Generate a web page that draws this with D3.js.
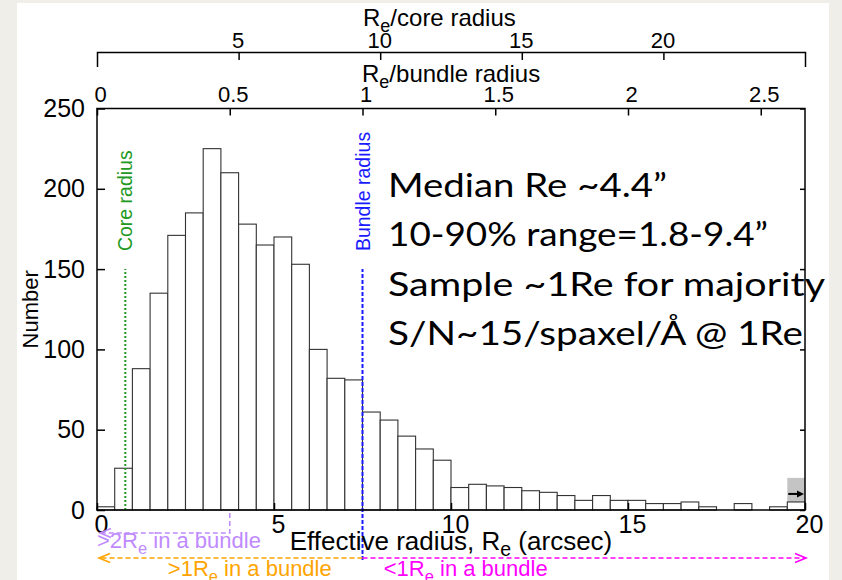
<!DOCTYPE html>
<html>
<head>
<meta charset="utf-8">
<script src="https://cdn.jsdelivr.net/npm/d3@7"></script>
<style>
  body { margin: 0; background: #efeee8; }
  svg { display: block; font-family: "Liberation Sans", Arial, sans-serif; }
</style>
</head>
<body>
<svg width="842" height="580"></svg>
<script>
// histogram of effective radius, 0.5" bins from 0 to 20"
const binWidth = 0.5;
const counts = [2, 26, 88, 135, 171, 185, 225, 210, 178, 165, 170, 153, 100, 82, 81, 61, 56, 46, 38, 31,
                14, 16, 15, 14, 12, 11, 9, 6, 9, 6, 6, 4, 4, 5, 2, 0, 4, 0, 2, 5];
const overflowCount = 20;   // gray bin: everything past the last bin
const overflowArrow = 10;
const coreRadius = 0.8;     // arcsec
const bundleRadius = 7.5;   // arcsec
const markerTop = 150;      // where the core / bundle lines stop

const xTicks = [0, 5, 10, 15, 20];
const yTicks = [0, 50, 100, 150, 200, 250];
const coreTicks = [5, 10, 15, 20];
const bundleTicks = [0, 0.5, 1, 1.5, 2, 2.5];
const notes = ["Median Re ~4.4”", "10-90% range=1.8-9.4”", "Sample ~1Re for majority", "S/N~15/spaxel/Å @ 1Re"];
const noteWidths = [279, 380, 437, 415];

const svg = d3.select("svg");

// white slide panel
svg.append("rect").attr("x", 17).attr("y", 3).attr("width", 812).attr("height", 577).attr("fill", "#fff");

const x = d3.scaleLinear().domain([0, 20]).range([97, 805]);
const y = d3.scaleLinear().domain([0, 250]).range([510, 108.5]);
const xCore = d3.scaleLinear().domain([0, 20 / coreRadius]).range(x.range());
const xBundle = d3.scaleLinear().domain([0, 20 / bundleRadius]).range(x.range());

// gray overflow bin with its arrow
svg.append("rect")
  .attr("x", x(20 - binWidth)).attr("y", y(overflowCount))
  .attr("width", x(20) - x(20 - binWidth)).attr("height", y(0) - y(overflowCount))
  .attr("fill", "#c4c4c4");

// bars
svg.selectAll(".bar")
  .data(counts)
  .enter().append("rect")
  .attr("class", "bar")
  .attr("x", (d, i) => x(i * binWidth))
  .attr("y", d => y(d))
  .attr("width", x(binWidth) - x(0))
  .attr("height", d => y(0) - y(d))
  .attr("fill", "#fff")
  .attr("stroke", "#333")
  .attr("stroke-width", 1.1);

svg.append("line")
  .attr("x1", x(20 - binWidth) + 1).attr("x2", x(20) - 5)
  .attr("y1", y(overflowArrow)).attr("y2", y(overflowArrow))
  .attr("stroke", "#000").attr("stroke-width", 2);
svg.append("path")
  .attr("d", `M${x(20) - 1},${y(overflowArrow)}l-7,-3.5v7z`)
  .attr("fill", "#000");

// core radius & bundle radius markers
svg.append("line")
  .attr("x1", x(coreRadius)).attr("x2", x(coreRadius))
  .attr("y1", y(0)).attr("y2", y(markerTop))
  .attr("stroke", "#229922").attr("stroke-width", 2).attr("stroke-dasharray", "2,2");
svg.append("text")
  .attr("transform", `translate(${x(coreRadius) + 7},${y(markerTop) - 18}) rotate(-90)`)
  .attr("font-size", 19.5).attr("fill", "#229922")
  .text("Core radius");

svg.append("line")
  .attr("x1", x(bundleRadius)).attr("x2", x(bundleRadius))
  .attr("y1", 560).attr("y2", y(markerTop))
  .attr("stroke", "#1a1aff").attr("stroke-width", 2).attr("stroke-dasharray", "4,2");
svg.append("text")
  .attr("transform", `translate(${x(bundleRadius) + 7},${y(markerTop) - 18}) rotate(-90)`)
  .attr("font-size", 19.5).attr("fill", "#1a1aff")
  .text("Bundle radius");

// frame
svg.append("rect")
  .attr("x", x(0)).attr("y", y(250))
  .attr("width", x(20) - x(0)).attr("height", y(0) - y(250))
  .attr("fill", "none").attr("stroke", "#000").attr("stroke-width", 1.5);

// axes
const bottom = svg.append("g")
  .attr("transform", `translate(0,${y(0)})`)
  .call(d3.axisBottom(x).tickValues(xTicks).tickSizeInner(-7).tickSizeOuter(0).tickPadding(5));
bottom.selectAll("text").attr("dx", 4);

const left = svg.append("g")
  .attr("transform", `translate(${x(0)},0)`)
  .call(d3.axisLeft(y).tickValues(yTicks).tickSizeInner(-8).tickSizeOuter(0).tickPadding(12));

const right = svg.append("g")
  .attr("transform", `translate(${x(20)},0)`)
  .call(d3.axisRight(y).tickValues(yTicks).tickSizeInner(-5).tickSizeOuter(0).tickFormat(""));

const top1 = svg.append("g")
  .attr("transform", `translate(0,${y(250)})`)
  .call(d3.axisTop(xBundle).tickValues(bundleTicks).tickFormat(d => String(d))
    .tickSizeInner(-7).tickSizeOuter(0).tickPadding(7));
top1.selectAll("text").attr("dx", 3);

const top2 = svg.append("g")
  .attr("transform", "translate(0,52)")
  .call(d3.axisTop(xCore).tickValues(coreTicks).tickSizeInner(-8).tickSizeOuter(-15).tickPadding(4));
top2.selectAll("text").attr("dx", -1);

[bottom, left, right, top1, top2].forEach(a => {
  a.attr("font-family", null).attr("font-size", null);
  a.selectAll("line, path").attr("stroke", "#000").attr("stroke-width", 1.5);
});
bottom.select(".domain").remove();
left.select(".domain").remove();
right.select(".domain").remove();
top1.select(".domain").remove();
bottom.selectAll("text").attr("font-size", 25);
left.selectAll("text").attr("font-size", 25);
top1.selectAll("text").attr("font-size", 22);
top2.selectAll("text").attr("font-size", 22);

// axis titles with subscript e
function reTitle(sel, before, after) {
  sel.append("tspan").text(before + "R");
  sel.append("tspan").attr("font-size", "75%").attr("dy", 6).text("e");
  sel.append("tspan").attr("dy", -6).text(after);
  return sel;
}

reTitle(svg.append("text").attr("x", 363).attr("y", 26).attr("font-size", 24), "", "/core radius");
reTitle(svg.append("text").attr("x", 362).attr("y", 82).attr("font-size", 24), "", "/bundle radius");
reTitle(svg.append("text").attr("x", (x(0) + x(20)) / 2).attr("y", 550).attr("font-size", 26)
  .attr("text-anchor", "middle"), "Effective radius, ", " (arcsec)");

svg.append("text")
  .attr("transform", `translate(38,${(y(0) + y(250)) / 2}) rotate(-90)`)
  .attr("text-anchor", "middle").attr("font-size", 22)
  .text("Number");

// sampling arrows under the axis
function arrowHead(xTip, yy, dir, color) {
  svg.append("path")
    .attr("d", `M${xTip - dir * 11},${yy - 4.5}L${xTip},${yy}L${xTip - dir * 11},${yy + 4.5}`)
    .attr("fill", "none").attr("stroke", color).attr("stroke-width", 1.6);
}

const purple = "#c08aff", orange = "#ffa400", magenta = "#ff00ff";

svg.append("path")
  .attr("d", `M${x(bundleRadius / 2)},513V533H${x(0) + 3}`)
  .attr("fill", "none").attr("stroke", purple).attr("stroke-width", 1.6).attr("stroke-dasharray", "5,3");
arrowHead(x(0) + 3, 533, -1, purple);
reTitle(svg.append("text").attr("x", x(0)).attr("y", 548).attr("font-size", 22).attr("fill", purple), ">2", " in a bundle");

svg.append("line")
  .attr("x1", x(bundleRadius)).attr("x2", x(0) + 2).attr("y1", 558).attr("y2", 558)
  .attr("stroke", orange).attr("stroke-width", 1.6).attr("stroke-dasharray", "5,3");
arrowHead(x(0) + 2, 558, -1, orange);
reTitle(svg.append("text").attr("x", x(2)).attr("y", 576).attr("font-size", 22).attr("fill", orange), ">1", " in a bundle");

svg.append("line")
  .attr("x1", x(bundleRadius)).attr("x2", x(20) + 1).attr("y1", 558).attr("y2", 558)
  .attr("stroke", magenta).attr("stroke-width", 1.6).attr("stroke-dasharray", "5,3");
arrowHead(x(20) + 1, 558, 1, magenta);
reTitle(svg.append("text").attr("x", x(8.1)).attr("y", 576).attr("font-size", 22).attr("fill", magenta), "<1", " in a bundle");

// summary text block
svg.selectAll(".note")
  .data(notes)
  .enter().append("text")
  .attr("class", "note")
  .attr("x", 388)
  .attr("y", (d, i) => 197 + i * 49.3)
  .attr("font-family", "Lato, 'Open Sans', sans-serif")
  .attr("font-size", 33)
  .attr("textLength", (d, i) => noteWidths[i])
  .attr("lengthAdjust", "spacingAndGlyphs")
  .attr("fill", "#000")
  .text(d => d);
</script>
</body>
</html>
